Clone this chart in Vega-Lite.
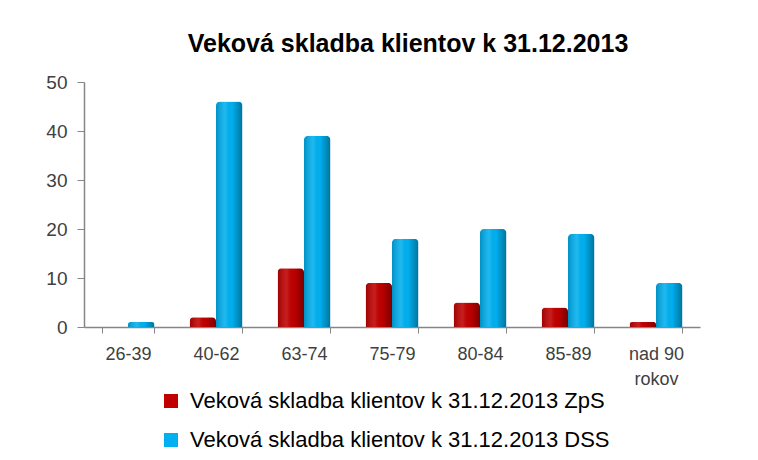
{
  "$schema": "https://vega.github.io/schema/vega-lite/v6.json",
  "autosize": "none",
  "width": 616,
  "height": 245,
  "padding": {"left": 84, "top": 82, "right": 58, "bottom": 133},
  "background": "white",
  "title": {
    "text": "Veková skladba klientov k 31.12.2013",
    "font": "Liberation Sans",
    "fontSize": 25,
    "fontWeight": "bold",
    "color": "#000000",
    "anchor": "middle",
    "dx": 16,
    "offset": 16
  },
  "data": {
    "values": [
      {"vek": "26-39", "seria": "Veková skladba klientov k 31.12.2013 ZpS", "pocet": 0},
      {"vek": "40-62", "seria": "Veková skladba klientov k 31.12.2013 ZpS", "pocet": 2},
      {"vek": "63-74", "seria": "Veková skladba klientov k 31.12.2013 ZpS", "pocet": 12},
      {"vek": "75-79", "seria": "Veková skladba klientov k 31.12.2013 ZpS", "pocet": 9},
      {"vek": "80-84", "seria": "Veková skladba klientov k 31.12.2013 ZpS", "pocet": 5},
      {"vek": "85-89", "seria": "Veková skladba klientov k 31.12.2013 ZpS", "pocet": 4},
      {"vek": "nad 90 rokov", "seria": "Veková skladba klientov k 31.12.2013 ZpS", "pocet": 1},
      {"vek": "26-39", "seria": "Veková skladba klientov k 31.12.2013 DSS", "pocet": 1},
      {"vek": "40-62", "seria": "Veková skladba klientov k 31.12.2013 DSS", "pocet": 46},
      {"vek": "63-74", "seria": "Veková skladba klientov k 31.12.2013 DSS", "pocet": 39},
      {"vek": "75-79", "seria": "Veková skladba klientov k 31.12.2013 DSS", "pocet": 18},
      {"vek": "80-84", "seria": "Veková skladba klientov k 31.12.2013 DSS", "pocet": 20},
      {"vek": "85-89", "seria": "Veková skladba klientov k 31.12.2013 DSS", "pocet": 19},
      {"vek": "nad 90 rokov", "seria": "Veková skladba klientov k 31.12.2013 DSS", "pocet": 9}
    ]
  },
  "encoding": {
    "x": {
      "field": "vek",
      "type": "nominal",
      "sort": null,
      "scale": {"paddingInner": 0.4, "paddingOuter": 0.2},
      "axis": {
        "title": null,
        "labelAngle": 0,
        "labelFont": "Liberation Sans",
        "labelFontSize": 18,
        "labelColor": "#404040",
        "labelPadding": 12,
        "labelLineHeight": 25,
        "labelExpr": "datum.label == 'nad 90 rokov' ? ['nad 90', 'rokov'] : datum.label",
        "domainColor": "#868686",
        "domainWidth": 1.5,
        "tickColor": "#868686",
        "tickSize": 6,
        "tickBand": "extent"
      }
    },
    "xOffset": {
      "field": "seria",
      "type": "nominal",
      "sort": ["Veková skladba klientov k 31.12.2013 ZpS", "Veková skladba klientov k 31.12.2013 DSS"],
      "scale": {"paddingInner": 0}
    },
    "y": {
      "field": "pocet",
      "type": "quantitative",
      "scale": {"domain": [0, 50]},
      "axis": {
        "title": null,
        "values": [0, 10, 20, 30, 40, 50],
        "grid": false,
        "labelFont": "Liberation Sans",
        "labelFontSize": 19,
        "labelColor": "#404040",
        "labelPadding": 10,
        "domainColor": "#868686",
        "domainWidth": 1.5,
        "tickColor": "#868686",
        "tickSize": 7
      }
    }
  },
  "layer": [
    {
      "mark": {"type": "bar", "cornerRadiusTopLeft": 4, "cornerRadiusTopRight": 4},
      "encoding": {
        "color": {
          "field": "seria",
          "type": "nominal",
          "sort": ["Veková skladba klientov k 31.12.2013 ZpS", "Veková skladba klientov k 31.12.2013 DSS"],
          "scale": {"range": ["#C00000", "#00B0F0"]},
          "legend": {
            "title": null,
            "orient": "none",
            "legendX": 76,
            "legendY": 308,
            "direction": "vertical",
            "symbolType": "square",
            "symbolSize": 196,
            "symbolStrokeWidth": 0,
            "labelFont": "Liberation Sans",
            "labelFontSize": 22,
            "labelColor": "#000000",
            "labelLimit": 700,
            "labelOffset": 8,
            "rowPadding": 17
          }
        }
      }
    },
    {
      "mark": {
        "type": "bar",
        "cornerRadiusTopLeft": 4,
        "cornerRadiusTopRight": 4,
        "fill": {
          "gradient": "linear",
          "x1": 0, "y1": 0, "x2": 1, "y2": 0,
          "stops": [
            {"offset": 0, "color": "rgba(0,0,0,0.18)"},
            {"offset": 0.35, "color": "rgba(255,255,255,0.12)"},
            {"offset": 0.6, "color": "rgba(0,0,0,0)"},
            {"offset": 1, "color": "rgba(0,0,0,0.35)"}
          ]
        }
      }
    }
  ],
  "config": {"view": {"stroke": null}}
}
